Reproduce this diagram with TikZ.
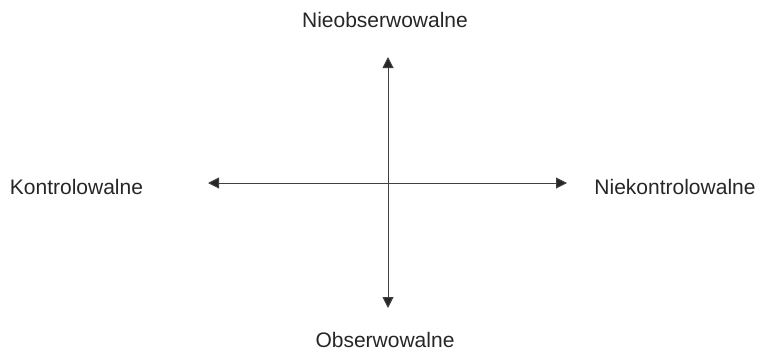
\documentclass[tikz,border=0pt]{standalone}
\usepackage{fontspec}
\setmainfont{Liberation Sans}
\usetikzlibrary{arrows.meta}
\begin{document}
\begin{tikzpicture}[x=1pt,y=-1pt,
  lbl/.style={font=\fontsize{21}{24}\selectfont, text=black!85, inner sep=0pt},
  axis/.style={line width=1pt, black!75, {Triangle[length=11pt,width=11pt,fill=black!85]}-{Triangle[length=11pt,width=11pt,fill=black!85]}}]
\useasboundingbox (0,0) rectangle (759,361);
\coordinate (top) at (388,57);
\coordinate (bot) at (388,308);
\coordinate (lft) at (208,183);
\coordinate (rgt) at (567,183);
\draw[axis] (bot) -- (top);
\draw[axis] (lft) -- (rgt);
\node[lbl] (n1) at (385,20) {Nieobserwowalne};
\node[lbl] (n2) at (385,340) {Obserwowalne};
\node[lbl] (n3) at (76.5,187) {Kontrolowalne};
\node[lbl] (n4) at (675,187) {Niekontrolowalne};
\end{tikzpicture}
\end{document}
